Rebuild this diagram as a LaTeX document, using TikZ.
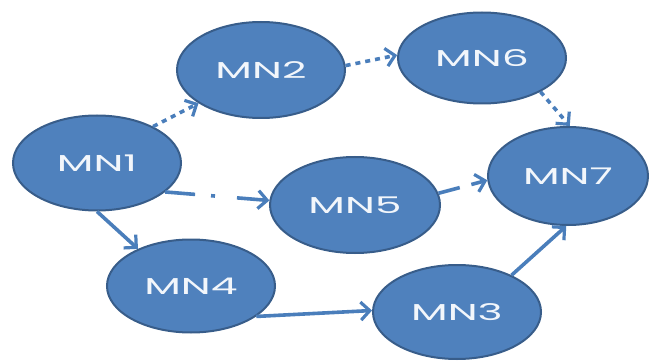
\documentclass[tikz,border=0pt]{standalone}
\usepackage{fontspec}
\setmainfont{Poppins}
\usetikzlibrary{arrows.meta}
\usetikzlibrary{shapes.geometric}
\definecolor{nodefill}{HTML}{4F81BD}
\definecolor{nodeline}{HTML}{385D8A}
\definecolor{linkblue}{HTML}{4A7EBB}
\definecolor{labeltext}{HTML}{F2F6FB}
\newcommand\widetext[1]{\scalebox{1.85}[1]{#1}}
\tikzset{
  mn/.style={ellipse, draw=nodeline, line width=2pt, fill=nodefill,
    minimum width=168pt, minimum height=95pt, inner sep=0pt,
    text=labeltext, font=\fontsize{23}{23}\selectfont},
  link/.style={draw=linkblue, line width=3.6pt,
    -{Straight Barb[length=9pt,width=18pt,line width=3.2pt]}},
  dotlink/.style={link, dash pattern=on 5pt off 5pt},
  dashdotlink/.style={link, dash pattern=on 30pt off 16pt on 4pt off 22pt},
  dashlink/.style={link, dash pattern=on 22pt off 12pt},
}
\begin{document}
\begin{tikzpicture}[x=1pt,y=-1pt]
  \useasboundingbox (0,0) rectangle (649,361);
  % nodes
  \node[mn] (mn1) at (97,163) {\widetext{MN1}};
  \node[mn, minimum height=96pt] (mn2) at (261,70) {\widetext{MN2}};
  \node[mn, minimum height=91pt] (mn6) at (482,58) {\widetext{MN6}};
  \node[mn, minimum width=160pt, minimum height=98pt] (mn7) at (568,176) {\widetext{MN7}};
  \node[mn, minimum width=170pt, minimum height=96pt] (mn5) at (355,205) {\widetext{MN5}};
  \node[mn, minimum height=93pt] (mn4) at (191,286) {\widetext{MN4}};
  \node[mn, minimum height=94pt] (mn3) at (457,312) {\widetext{MN3}};
  % connectors
  \draw[dotlink] (mn1.33) -- (mn2.208);
  \draw[dotlink] (mn2.3) -- (mn6.178);
  \draw[dotlink] (mn6.-30) -- (mn7.88);
  \draw[dashdotlink] (mn1.-23) -- (mn5.177);
  \draw[dashlink] (mn5.8) -- (mn7.183);
  \draw[link] (mn1.270) -- (mn4.145);
  \draw[link] (mn4.-25) -- (mn3.179);
  \draw[link] (mn3.34) -- (mn7.268);
\end{tikzpicture}
\end{document}
